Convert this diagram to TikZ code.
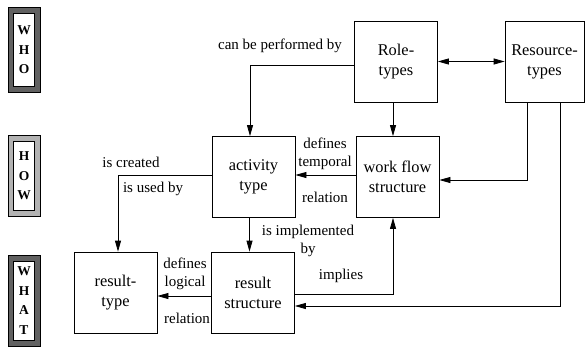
\documentclass[tikz,border=0pt]{standalone}
\usepackage{fontspec}
\setmainfont{Liberation Serif}
\newfontfamily\diagramface{Liberation Serif}
\usetikzlibrary{arrows.meta}
\begin{document}
\begin{tikzpicture}[x=1pt,y=-1pt,
  >={Triangle[length=11pt,width=6pt]},
  box/.style={draw, line width=0.8pt, minimum width=83pt, minimum height=81pt,
    align=center, inner sep=0pt, font=\diagramface\fontsize{16.4}{20}\selectfont},
  lbl/.style={align=center, inner sep=0pt, font=\diagramface\fontsize{15}{18}\selectfont},
  conn/.style={line width=0.8pt},
  sideframe/.style={draw, line width=0.6pt, minimum width=32pt, inner sep=0pt},
  sideinner/.style={draw, fill=white, line width=0.9pt, minimum width=21pt,
    align=center, inner sep=0pt, font=\diagramface\fontsize{13.5}{19.5}\selectfont\bfseries},
  darkband/.style={fill=black!62},
  lightband/.style={fill=black!30}
]
\useasboundingbox (0,0) rectangle (586,348);

% level markers on the left
\node[sideframe, darkband, minimum height=85pt] (who) at (24,50) {};
\node[sideinner, minimum height=73pt] (whoin) at (who) {W\\H\\O};
\node[sideframe, lightband, minimum height=81pt] (how) at (24,176) {};
\node[sideinner, minimum height=69pt] (howin) at (how) {H\\O\\W};
\node[sideframe, darkband, minimum height=91pt] (what) at (24,300.5) {};
\node[sideinner, minimum height=79pt] (whatin) at (what) {W\\H\\A\\T};

% concept boxes
\node[box] (role) at (396,61.5) {Role-\\types};
\node[box, minimum width=79pt] (res) at (544.5,61.5) {Resource-\\types};
\node[box] (wf) at (397.5,177) {work flow\\structure};
\node[box] (act) at (253.5,177) {activity\\type};
\node[box] (rs) at (253,292.5) {result\\structure};
\node[box] (rt) at (115.5,292.5) {result-\\type};

% relations
\draw[conn, <->] (role.east) -- (res.west);
\draw[conn, ->] ([yshift=-3.5pt]role.west) -| ([xshift=-3.5pt]act.north);
\draw[conn, ->] ([xshift=-3pt]role.south) -- ([xshift=-3pt]role.south |- wf.north);
\draw[conn, ->] ([xshift=-17.5pt]res.south) |- ([yshift=-3pt]wf.east);
\draw[conn, ->] ([xshift=15.5pt]res.south) |- ([yshift=-13.5pt]rs.east);
\draw[conn, ->] ([yshift=2pt]wf.west) -- ([yshift=2pt]act.east);
\draw[conn, ->] ([yshift=2pt]act.west) -| ([xshift=2.5pt]rt.north);
\draw[conn, ->] ([xshift=-4pt]act.south) -- ([xshift=-4pt]act.south |- rs.north);
\draw[conn, ->] ([yshift=-3.5pt]rs.west) -- ([yshift=-3.5pt]rt.east);
\draw[conn, ->] ([yshift=-1.5pt]rs.east) -| ([xshift=-4.5pt]wf.south);

% relation labels
\node[lbl] (lperf) at (280,46) {can be performed by};
\node[lbl] (ltemp) at (325,154) {defines\\temporal};
\node[lbl] (ltrel) at (325,197) {relation};
\node[lbl] (lcreated) at (131,162) {is created};
\node[lbl] (lused) at (153,189) {is used by};
\node[lbl] (limpl) at (308,241) {is implemented\\by};
\node[lbl] (limplies) at (341,276) {implies};
\node[lbl] (llog) at (185,274) {defines\\logical};
\node[lbl] (llrel) at (187,318) {relation};
\end{tikzpicture}
\end{document}
